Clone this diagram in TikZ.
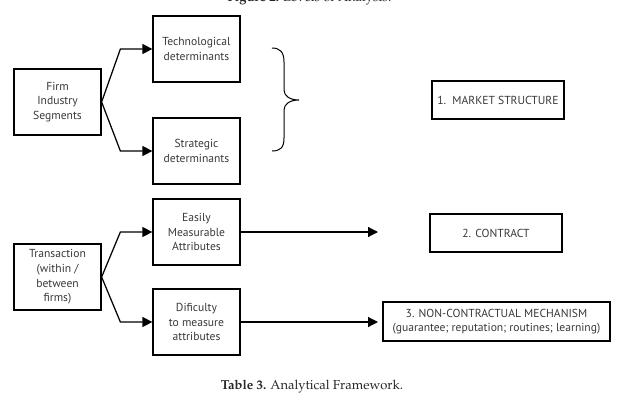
\documentclass[tikz,border=0pt]{standalone}
\usepackage{fontspec}
\setsansfont{PT Sans}
\usetikzlibrary{arrows.meta,calc}
\newcommand{\capfont}{\fontencoding{OT1}\fontfamily{ppl}\selectfont}
\begin{document}
\begin{tikzpicture}[x=1pt,y=-1pt,
  box/.style={draw=black,line width=1.25pt,inner sep=0pt,align=center,
    text=black!78,font=\sffamily\fontsize{11.6}{14.6}\selectfont},
  arr/.style={line width=1.25pt,-{Triangle[length=10pt,width=10pt]}},
  capstyle/.style={font=\capfont\fontsize{13}{15}\selectfont,text=black!85}]
\useasboundingbox (0,0) rectangle (619,410);

% captions
\node[capstyle] (figcap) at (309.5,-1) {\textbf{Figure 2.} Levels of Analysis.};
\node[capstyle] (tabcap) at (312,387) {\textbf{Table 3.} Analytical Framework.};

% upper branch: market structure
\node[box,minimum width=87pt,minimum height=66pt] (firm) at (57.5,102) {Firm\\Industry\\Segments};
\node[box,minimum width=87pt,minimum height=66pt] (tech) at (196.5,49) {Technological\\determinants};
\node[box,minimum width=87pt,minimum height=66pt] (strat) at (196.5,151) {Strategic\\determinants};
\node[box,minimum width=132pt,minimum height=38pt] (market) at (498,100) {1.\ \ MARKET STRUCTURE};

\draw[arr] (firm.east) -- ($(tech.west)+(-32,0)$) -- (tech.west);
\draw[arr] (firm.east) -- ($(strat.west)+(-32,0)$) -- (strat.west);

% brace grouping the two determinants
\draw[line width=1pt] (272,48) .. controls (280,48) and (284,52) .. (284,62)
  -- (284,90) .. controls (284,96) and (290,100) .. (299,100)
  .. controls (290,100) and (284,104) .. (284,110)
  -- (284,138) .. controls (284,148) and (280,151) .. (272,151);

% lower branch: transactions
\node[box,minimum width=87pt,minimum height=66pt] (trans) at (57.5,277) {Transaction\\(within /\\between\\firms)};
\node[box,minimum width=87pt,minimum height=66pt] (easy) at (196.5,232) {Easily\\Measurable\\Attributes};
\node[box,minimum width=87pt,minimum height=66pt] (diff) at (196.5,322) {Dificulty\\to measure\\attributes};
\node[box,minimum width=132pt,minimum height=38pt] (contract) at (496,233) {2. CONTRACT};
\node[box,minimum width=227pt,minimum height=39pt] (ncm) at (496.5,321.5) {3. NON-CONTRACTUAL MECHANISM\\(guarantee; reputation; routines; learning)};

\draw[arr] (trans.east) -- ($(easy.west)+(-32,0)$) -- (easy.west);
\draw[arr] (trans.east) -- ($(diff.west)+(-32,0)$) -- (diff.west);

\coordinate (easyend) at (378,232);
\coordinate (diffend) at (378,322);
\draw[arr] (easy.east) -- (easyend);
\draw[arr] (diff.east) -- (diffend);
\end{tikzpicture}
\end{document}
